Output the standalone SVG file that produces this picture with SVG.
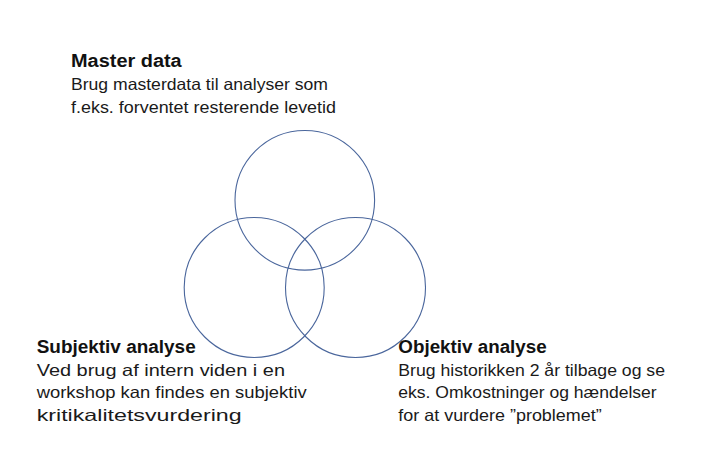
<svg xmlns="http://www.w3.org/2000/svg" width="708" height="463" viewBox="0 0 708 463">
<style>
.c{fill:none;stroke:#4a669c;stroke-width:1.1}
.t{font-family:"Liberation Sans",Arial,sans-serif;font-weight:bold;font-size:17.5px;fill:#111}
.b{font-family:"Liberation Sans",Arial,sans-serif;font-size:16.5px;fill:#1a1a1a}
</style>
<rect width="708" height="463" fill="#fff"/>
<g id="circles">
<circle id="circle-master" class="c" cx="304.8" cy="200.3" r="69.8"/>
<circle id="circle-subjektiv" class="c" cx="254.2" cy="287.5" r="70"/>
<circle id="circle-objektiv" class="c" cx="355.5" cy="287.5" r="70"/>
</g>
<g id="master">
<text class="t" x="71" y="66.5" textLength="110.7" lengthAdjust="spacingAndGlyphs">Master data</text>
<text class="b" x="71" y="90" textLength="257" lengthAdjust="spacingAndGlyphs">Brug masterdata til analyser som</text>
<text class="b" x="71" y="112.7" textLength="265" lengthAdjust="spacingAndGlyphs">f.eks. forventet resterende levetid</text>
</g>
<g id="subjektiv">
<text class="t" x="36.7" y="353.3" textLength="159" lengthAdjust="spacingAndGlyphs">Subjektiv analyse</text>
<text class="b" x="36.7" y="375.7" textLength="248.3" lengthAdjust="spacingAndGlyphs">Ved brug af intern viden i en</text>
<text class="b" x="36.7" y="398.3" textLength="270" lengthAdjust="spacingAndGlyphs">workshop kan findes en subjektiv</text>
<text class="b" x="36.7" y="420.5" textLength="205" lengthAdjust="spacingAndGlyphs">kritikalitetsvurdering</text>
</g>
<g id="objektiv">
<text class="t" x="398.3" y="352.7" textLength="148.4" lengthAdjust="spacingAndGlyphs">Objektiv analyse</text>
<text class="b" x="398.3" y="375.7" textLength="266.7" lengthAdjust="spacingAndGlyphs">Brug historikken 2 år tilbage og se</text>
<text class="b" x="398.3" y="398.3" textLength="258.4" lengthAdjust="spacingAndGlyphs">eks. Omkostninger og hændelser</text>
<text class="b" x="398.3" y="420.5" textLength="203.4" lengthAdjust="spacingAndGlyphs">for at vurdere ”problemet”</text>
</g>
<g id="connectors"></g>
</svg>
